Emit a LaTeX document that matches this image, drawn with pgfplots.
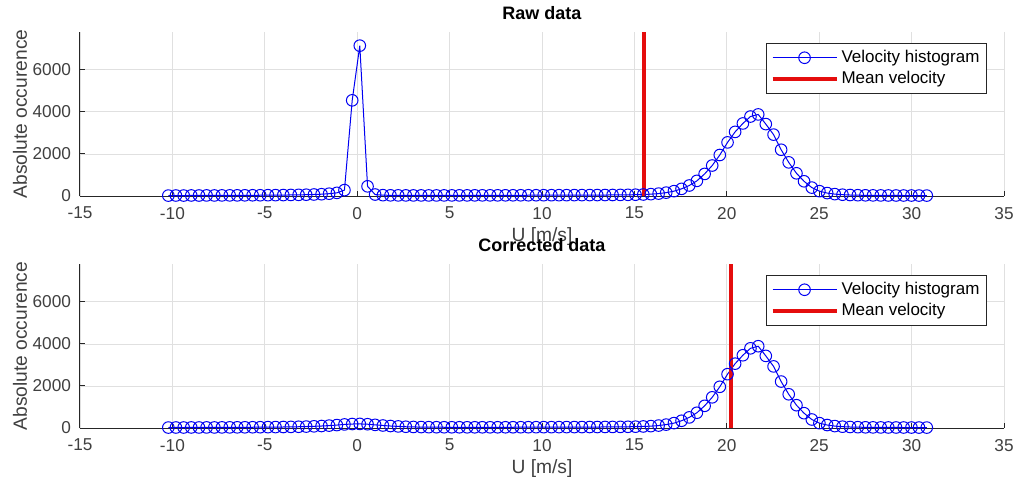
\documentclass[border=0pt]{standalone}
\usepackage{fontspec}
\setmainfont{Liberation Sans}
\usepackage{pgfplots}
\usepackage{pgfplotstable}
\pgfplotsset{compat=1.18}

% x = bin centre [m/s], raw = raw histogram, corr = corrected histogram
\pgfplotstableread{
x raw corr
-10.22 20 22
-9.81 24 25
-9.39 22 24
-8.98 26 27
-8.56 24 25
-8.15 28 28
-7.73 26 27
-7.32 29 30
-6.90 30 31
-6.49 31 32
-6.08 33 34
-5.66 35 36
-5.25 36 38
-4.83 39 41
-4.42 42 44
-4.00 45 48
-3.59 50 53
-3.17 55 60
-2.76 62 68
-2.34 72 80
-1.93 85 95
-1.52 110 115
-1.10 150 140
-0.69 280 170
-0.27 4550 190
0.14 7150 195
0.56 460 180
0.97 70 150
1.39 40 120
1.80 32 95
2.22 30 75
2.63 29 60
3.04 28 50
3.46 28 45
3.87 28 40
4.29 28 38
4.70 29 36
5.12 29 35
5.53 30 35
5.95 30 34
6.36 31 34
6.77 31 34
7.19 32 34
7.60 32 35
8.02 33 35
8.43 34 36
8.85 35 37
9.26 36 38
9.68 37 39
10.09 38 40
10.51 39 41
10.92 40 42
11.33 41 43
11.75 42 44
12.16 43 45
12.58 44 46
12.99 45 47
13.41 47 49
13.82 49 51
14.24 52 54
14.65 56 58
15.06 62 64
15.48 72 74
15.89 88 90
16.31 115 117
16.72 160 162
17.14 230 232
17.55 340 345
17.97 500 505
18.38 720 725
18.80 1050 1055
19.21 1450 1460
19.62 1950 1960
20.04 2550 2560
20.45 3050 3060
20.87 3450 3460
21.28 3780 3790
21.70 3880 3890
22.11 3420 3430
22.53 2920 2930
22.94 2200 2210
23.35 1600 1605
23.77 1080 1085
24.18 700 705
24.60 400 405
25.01 230 232
25.43 140 142
25.84 90 92
26.26 62 63
26.67 47 48
27.09 38 39
27.50 33 33
27.91 30 30
28.33 28 28
28.74 26 26
29.16 25 25
29.57 24 24
29.99 23 23
30.40 22 22
30.82 21 21
}\histdata

\definecolor{mblue}{rgb}{0,0,0.95}
\definecolor{mred}{rgb}{0.9,0.05,0.05}

\pgfplotsset{
  histaxis/.style={
    scale only axis, width=462pt, height=82pt,
    xmin=-15, xmax=35, ymin=0, ymax=7800,
    xtick={-15,-10,...,35}, ytick={0,2000,4000,6000},
    axis lines*=left,
    axis line style={black!85, line width=0.5pt},
    tick align=inside, major tick length=2.5pt,
    tick style={black!85, line width=0.5pt},
    grid=major, major grid style={black!12, line width=0.4pt},
    scaled y ticks=false,
    /pgf/number format/1000 sep={},
    /pgf/number format/assume math mode=true,
    ticklabel style={font=\fontsize{8.6}{10}\selectfont, text=black!75},
    xticklabel style={yshift=-2pt},
    yticklabel style={xshift=-1pt},
    every axis x label/.style={at={(axis description cs:0.5,0)}, yshift=-20.5pt, anchor=center, font=\fontsize{9.6}{11}\selectfont, text=black!75},
    every axis y label/.style={at={(axis description cs:0,0.5)}, xshift=-30pt, rotate=90, anchor=center, font=\fontsize{9.6}{11}\selectfont, text=black!75},
    every axis title/.style={at={(axis description cs:0.5,1)}, yshift=9.5pt, anchor=center, font=\bfseries\fontsize{9}{10}\selectfont},
    xlabel={U [m/s]}, ylabel={Absolute occurence},
    clip=false,
    legend cell align=left,
    legend style={at={(0.9816,0.933)}, anchor=north east, draw=black!85, line width=0.5pt,
      font=\fontsize{8.5}{10}\selectfont, inner xsep=2pt, inner ysep=1.8pt,
      row sep=0pt, nodes={inner sep=1.5pt}},
  },
  histline/.style={color=mblue, line width=0.5pt, mark=o, mark size=2.9pt, mark options={solid, line width=0.5pt},
    legend image code/.code={
      \draw[mblue, line width=0.5pt] (0pt,0pt) -- (32pt,0pt);
      \draw[mblue, line width=0.5pt] (16pt,0pt) circle[radius=2.9pt];}},
  meanline/.style={color=mred, line width=2pt,
    legend image code/.code={\draw[mred, line width=2pt] (0pt,0pt) -- (32pt,0pt);}},
}

\begin{document}
\begin{tikzpicture}
\path[use as bounding box] (-40pt,-143.5pt) rectangle (468pt,98pt);
\begin{axis}[histaxis, at={(0pt,0pt)}, anchor=south west, title={Raw data}]
\addplot[histline] table[x=x, y=raw] {\histdata};
\addlegendentry{Velocity histogram}
\addplot[meanline] coordinates {(15.5,0) (15.5,7800)};
\addlegendentry{Mean velocity}
\end{axis}
\begin{axis}[histaxis, at={(0pt,-116pt)}, anchor=south west, title={Corrected data}]
\addplot[histline] table[x=x, y=corr] {\histdata};
\addlegendentry{Velocity histogram}
\addplot[meanline] coordinates {(20.2,0) (20.2,7800)};
\addlegendentry{Mean velocity}
\end{axis}
\end{tikzpicture}
\end{document}
